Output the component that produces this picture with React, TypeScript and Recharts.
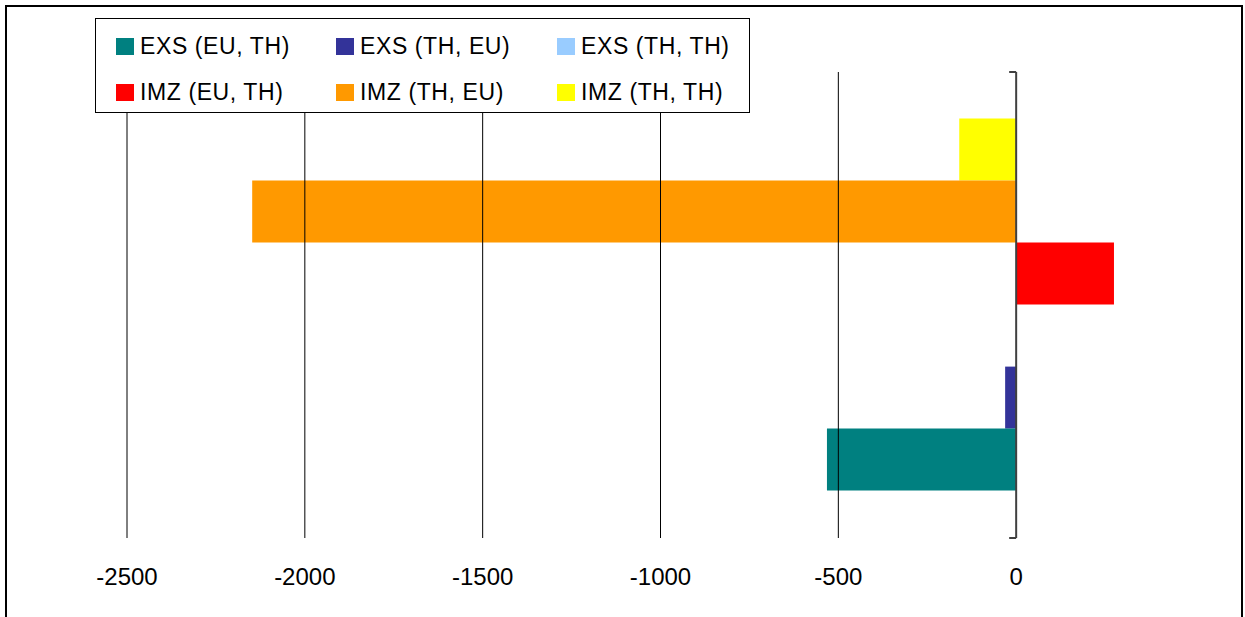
import { BarChart, Bar, XAxis, YAxis, ReferenceLine } from 'recharts';

// series in legend order (Excel draws the first one at the bottom)
const seriesNames = [
  'EXS (EU, TH)',
  'EXS (TH, EU)',
  'EXS (TH, TH)',
  'IMZ (EU, TH)',
  'IMZ (TH, EU)',
  'IMZ (TH, TH)',
];
const seriesValues = [-532, -31, 0, 275, -2148, -160];
const seriesColors = ['#008080', '#333399', '#99CCFF', '#FF0000', '#FF9900', '#FFFF00'];
const xTicks = [-2500, -2000, -1500, -1000, -500, 0];

const row: Record<string, string | number> = { name: 'all' };
seriesValues.forEach((v, i) => {
  row[`s${i}`] = v;
});
const data = [row];

const FONT = '"Liberation Sans", Arial, sans-serif';

const XTick = ({ x, y, payload }: any) => (
  <text x={x} y={y + 47} textAnchor="middle" fontSize={24} fontFamily={FONT} fill="#000">
    {payload.value}
  </text>
);

const AxisLine = (p: any) => (
  <g>
    <line x1={p.x1} y1={p.y1} x2={p.x2} y2={p.y2} stroke="#404040" strokeWidth={2} />
    <line x1={p.x1 - 7} y1={p.y1} x2={p.x1} y2={p.y1} stroke="#404040" strokeWidth={2} />
    <line x1={p.x2 - 7} y1={p.y2} x2={p.x2} y2={p.y2} stroke="#404040" strokeWidth={2} />
  </g>
);

function Legend() {
  return (
    <div
      style={{
        position: 'absolute',
        left: 95,
        top: 18,
        width: 655,
        height: 95,
        boxSizing: 'border-box',
        border: '1px solid #000',
        background: '#fff',
        display: 'grid',
        gridTemplateColumns: '220px 221px 200px',
        gridTemplateRows: '46px 46px',
        paddingLeft: 20,
        paddingTop: 4,
        fontFamily: FONT,
        fontSize: 23,
        letterSpacing: 0.6,
        color: '#000',
      }}
    >
      {seriesNames.map((name, i) => (
        <div key={name} style={{ display: 'flex', alignItems: 'center', whiteSpace: 'nowrap' }}>
          <span
            style={{
              display: 'inline-block',
              width: 18,
              height: 17,
              background: seriesColors[i],
              marginRight: 6,
            }}
          />
          {name}
        </div>
      ))}
    </div>
  );
}

export default function App() {
  // top to bottom order for the vertical layout
  const drawOrder = seriesNames.map((_, i) => i).reverse();

  return (
    <div
      style={{
        position: 'absolute',
        left: 0,
        top: 0,
        width: 1245,
        height: 617,
        overflow: 'hidden',
        background: '#fff',
      }}
    >
      <div
        style={{
          position: 'absolute',
          left: 5,
          top: 5,
          width: 1238,
          height: 700,
          boxSizing: 'border-box',
          border: '2px solid #000',
        }}
      />
      <div style={{ position: 'absolute', left: 0, top: 0 }}>
        <BarChart
          width={1245}
          height={617}
          data={data}
          layout="vertical"
          margin={{ top: 72, right: 51, bottom: 49, left: 127 }}
          barCategoryGap="10%"
          barGap={0}
        >
          <XAxis
            type="number"
            domain={[-2500, 500]}
            ticks={xTicks}
            interval={0}
            axisLine={false}
            tickLine={false}
            tickSize={0}
            tickMargin={0}
            height={30}
            tick={<XTick />}
          />
          <YAxis type="category" dataKey="name" hide />
          {xTicks
            .filter((t) => t !== 0)
            .map((t) => (
              <ReferenceLine key={t} x={t} stroke="#000" strokeWidth={1} />
            ))}
          {drawOrder.map((i) => (
            <Bar
              key={seriesNames[i]}
              dataKey={`s${i}`}
              name={seriesNames[i]}
              fill={seriesColors[i]}
              isAnimationActive={false}
            />
          ))}
          <ReferenceLine x={0} shape={AxisLine} />
        </BarChart>
      </div>
      <Legend />
    </div>
  );
}
